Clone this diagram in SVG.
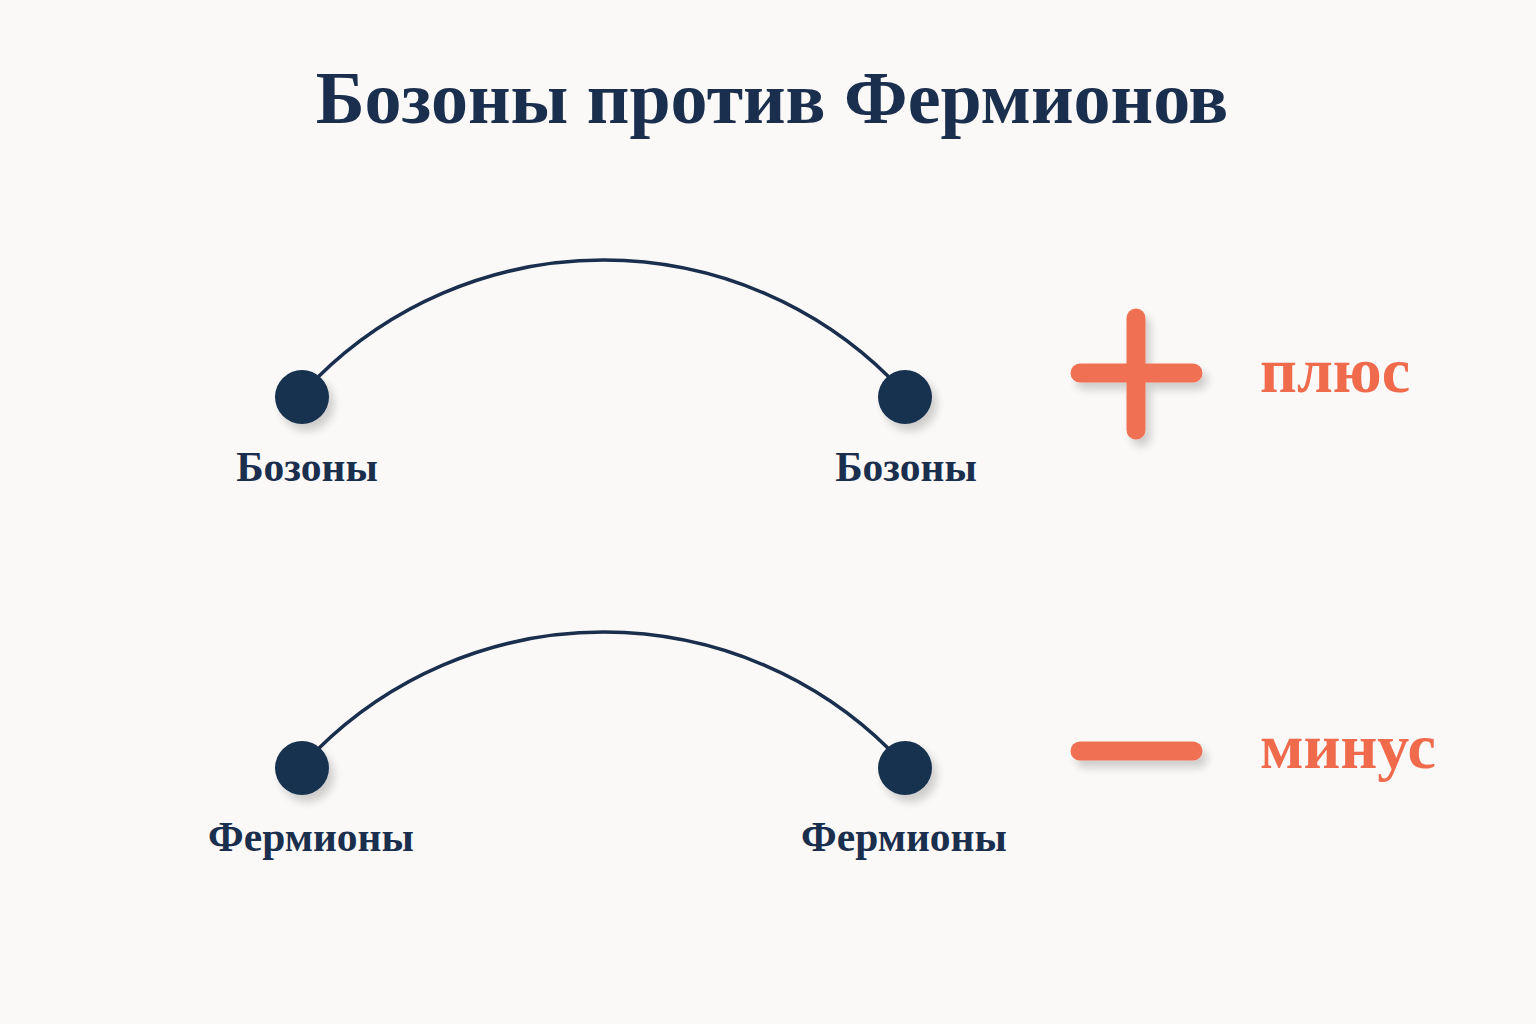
<svg xmlns="http://www.w3.org/2000/svg" width="1536" height="1024" viewBox="0 0 1536 1024">
<defs>
<style>
.title{font-family:"Liberation Serif","DejaVu Serif",serif;font-weight:bold;font-size:74px;fill:#1a2e4d}
.lbl{font-family:"Liberation Serif","DejaVu Serif",serif;font-weight:bold;font-size:41.5px;fill:#1a2e4d}
.sign{font-family:"Liberation Serif","DejaVu Serif",serif;font-weight:bold;font-size:64px;fill:#f06a4c}
.arc{fill:none;stroke:#1a2e4d;stroke-width:3.5}
.dot{fill:#17304f}
.bar{stroke:#f06f52;stroke-width:19;stroke-linecap:round;fill:none}
</style>
<filter id="sh" filterUnits="userSpaceOnUse" x="0" y="0" width="1536" height="1024">
<feGaussianBlur in="SourceAlpha" stdDeviation="4"/>
<feOffset dx="5" dy="7" result="b"/>
<feComponentTransfer><feFuncA type="linear" slope="0.18"/></feComponentTransfer>
<feMerge><feMergeNode/><feMergeNode in="SourceGraphic"/></feMerge>
</filter>
</defs>
<rect width="1536" height="1024" fill="#faf9f8"/>
<text class="title" x="772" y="123" text-anchor="middle">Бозоны против Фермионов</text>
<g id="connectors">
<path class="arc" d="M317,378 A407,407 0 0 1 890,378"/>
<path class="arc" d="M317,750 A407,407 0 0 1 890,750"/>
</g>
<g id="boson-left"><circle class="dot" cx="302" cy="397" r="27" filter="url(#sh)"/><text class="lbl" x="307" y="481" text-anchor="middle">Бозоны</text></g>
<g id="boson-right"><circle class="dot" cx="905" cy="397" r="27" filter="url(#sh)"/><text class="lbl" x="906" y="481" text-anchor="middle">Бозоны</text></g>
<g id="fermion-left"><circle class="dot" cx="302" cy="768" r="27" filter="url(#sh)"/><text class="lbl" x="311" y="851" text-anchor="middle">Фермионы</text></g>
<g id="fermion-right"><circle class="dot" cx="905" cy="768" r="27" filter="url(#sh)"/><text class="lbl" x="904" y="851" text-anchor="middle">Фермионы</text></g>
<g id="plus"><path class="bar" d="M1080,373 H1193 M1136,318 V430" filter="url(#sh)"/><text class="sign" x="1260" y="392">плюс</text></g>
<g id="minus"><path class="bar" d="M1080,751 H1193" filter="url(#sh)"/><text class="sign" x="1260" y="768">минус</text></g>
</svg>
